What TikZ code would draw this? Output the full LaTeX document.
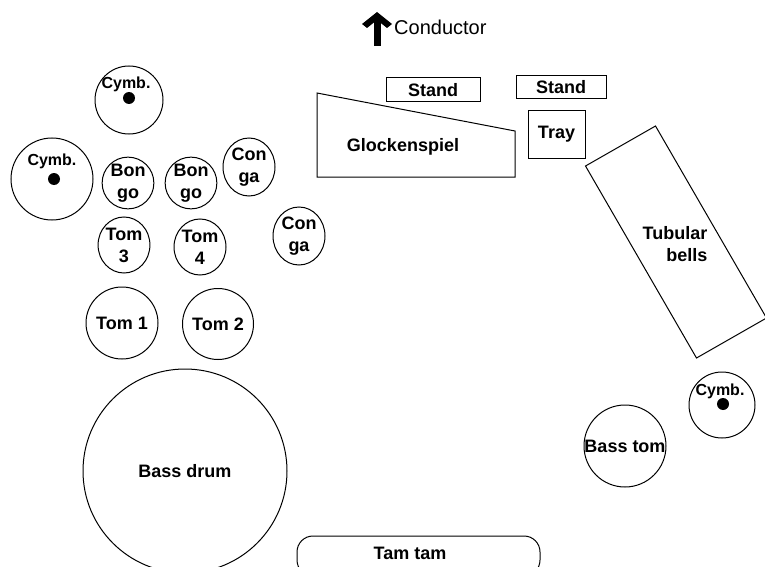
\documentclass[tikz,border=0pt]{standalone}
\usepackage{fontspec}
\setmainfont{Liberation Sans}
\usetikzlibrary{shapes.geometric}
\begin{document}
\begin{tikzpicture}[x=1pt,y=-1pt,
  lab/.style={font=\bfseries\fontsize{18}{22}\selectfont, align=center, inner sep=0},
  drum/.style={draw, circle, line width=1, inner sep=0, lab},
  oval/.style={draw, ellipse, line width=1, inner sep=0, lab},
  box/.style={draw, rectangle, line width=1, inner sep=0, lab},
  dot/.style={circle, fill, minimum size=12, inner sep=0},
  cym/.style={font=\bfseries\fontsize{16}{18}\selectfont, inner sep=0}]
\useasboundingbox (0,0) rectangle (765,567);
% Conductor
\fill (362,24) -- (377,12) -- (392,24) -- (387,28) -- (377,20) -- (367,28) -- cycle;
\fill (373.5,18) rectangle (380.5,46);
\node[font=\fontsize{20}{22}\selectfont, anchor=west, inner sep=0] (cond) at (394,27) {Conductor};
% cymbals
\node[drum, minimum size=68] (cymbT) at (129,100) {};
\node[dot] (dotT) at (129,98) {};
\node[cym] (cymT) at (126,84) {Cymb.};
\node[drum, minimum size=82] (cymbL) at (52,179) {};
\node[dot] (dotL) at (54,179) {};
\node[cym] (cymL) at (52,161) {Cymb.};
\node[drum, minimum size=66] (cymbR) at (722,405) {};
\node[dot] (dotR) at (723,404) {};
\node[cym] (cymR) at (720,391) {Cymb.};
% bongos, congas, toms
\node[drum, minimum size=50] (bongoA) at (128,183) {Bon\\go};
\node[drum, minimum size=50] (bongoB) at (191,183) {Bon\\go};
\node[oval, minimum width=52, minimum height=58] (congaA) at (249,167) {Con\\ga};
\node[oval, minimum width=52, minimum height=58] (congaB) at (299,236) {Con\\ga};
\node[oval, minimum width=49, minimum height=56] (tom3) at (124,245) {Tom\\3};
\node[oval, minimum width=52, minimum height=56] (tom4) at (200,247) {Tom\\4};
\node[drum, minimum size=72] (tom1) at (122,323) {Tom 1};
\node[drum, minimum size=71] (tom2) at (218,324) {Tom 2};
\node[drum, minimum size=204] (bass) at (185,471) {Bass drum};
\node[drum, minimum size=82] (basstom) at (625,446) {Bass tom};
% stands, tray, glockenspiel
\node[box, minimum width=94, minimum height=24] (standA) at (433,90) {Stand};
\node[box, minimum width=90, minimum height=23] (standB) at (561,87.5) {Stand};
\node[box, minimum width=57, minimum height=47] (tray) at (556.5,134.5) {Tray};
\draw[line width=1] (317,93) -- (515,131) -- (515,177) -- (317,177) -- cycle;
\node[lab] (glock) at (403,147) {Glockenspiel};
% tubular bells
\draw[line width=1] (655.5,126) -- (766.5,318) -- (696.5,358) -- (585.5,166) -- cycle;
\node[lab, align=right] (tub) at (675,244) {Tubular\\bells};
% tam tam
\node[draw, rounded corners=16, line width=1, minimum width=243, minimum height=40] (tamS) at (418.5,556) {};
\node[lab] (tam) at (410,553) {Tam tam};
\end{tikzpicture}
\end{document}
